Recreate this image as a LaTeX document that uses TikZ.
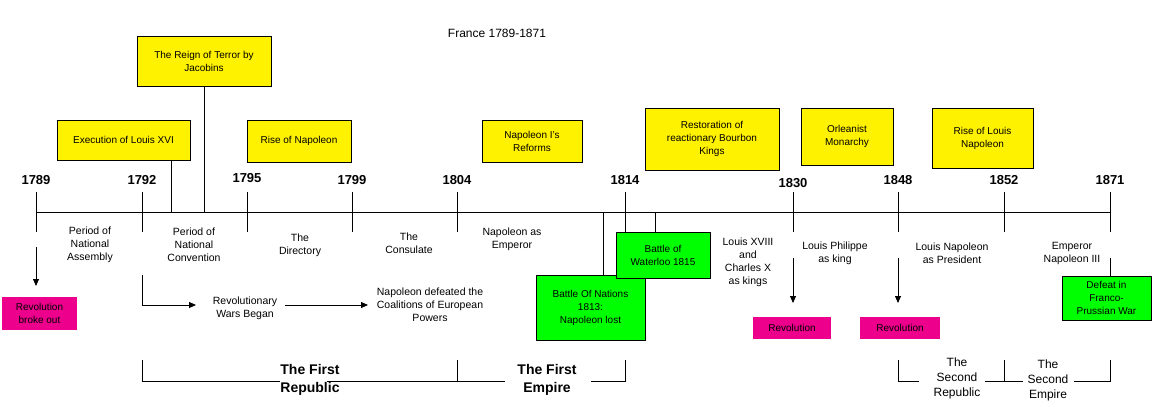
\documentclass[tikz,border=0pt]{standalone}
\usepackage{fontspec}
\setmainfont{Liberation Sans}
\usetikzlibrary{arrows.meta}
\begin{document}
\begin{tikzpicture}[x=1pt,y=-1pt,
  txt/.style={align=center,font=\fontsize{10.5}{13}\selectfont,inner sep=0pt},
  box/.style={draw,thick,align=center,font=\fontsize{10}{13}\selectfont,inner sep=0pt},
  ybox/.style={box,fill=yellow},
  gbox/.style={box,fill=green},
  mbox/.style={fill=magenta,align=center,font=\fontsize{10}{13}\selectfont,inner sep=0pt},
  yr/.style={font=\bfseries\fontsize{13}{15}\selectfont,inner sep=0pt},
  big/.style={font=\bfseries\fontsize{14}{18}\selectfont,align=center,inner sep=0pt},
  mid/.style={font=\fontsize{12}{15}\selectfont,align=center,inner sep=0pt},
  ln/.style={thick},
  arr/.style={thick,-{Triangle[length=7pt,width=6pt]}}]
\useasboundingbox (0,0) rectangle (1152,407);
\node[font=\fontsize{12}{14}\selectfont] (title) at (497,33) {France 1789-1871};
% axis
\coordinate (a0) at (36,212); \coordinate (a1) at (1111,212);
\draw[ln] (a0) -- (a1);
\foreach \x/\y/\n in {36/1789/t1,142/1792/t2,247/1795/t3,352/1799/t4,457/1804/t5,625/1814/t6,793/1830/t7,898/1848/t8,1004/1852/t9,1110/1871/t10}{
  \coordinate (\n a) at (\x,192); \coordinate (\n b) at (\x,232);
  \draw[ln] (\n a) -- (\n b);
}
\node[yr] (y1) at (36,180) {1789};
\node[yr] (y2) at (142,180) {1792};
\node[yr] (y3) at (247,178) {1795};
\node[yr] (y4) at (352,180) {1799};
\node[yr] (y5) at (457,180) {1804};
\node[yr] (y6) at (625,180) {1814};
\node[yr] (y7) at (793,183) {1830};
\node[yr] (y8) at (898,180) {1848};
\node[yr] (y9) at (1004,180) {1852};
\node[yr] (y10) at (1110,180) {1871};
% yellow boxes
\node[ybox,minimum width=134,minimum height=50] (terror) at (204,61) {The Reign of Terror by\\Jacobins};
\node[ybox,minimum width=133,minimum height=40] (exec) at (123.5,140) {Execution of Louis XVI};
\node[ybox,minimum width=104,minimum height=42] (rise) at (299,141) {Rise of Napoleon};
\node[ybox,minimum width=100,minimum height=42] (reforms) at (532,141) {Napoleon I's\\Reforms};
\node[ybox,minimum width=134,minimum height=62] (resto) at (712,139) {Restoration of\\reactionary Bourbon\\Kings};
\node[ybox,minimum width=92,minimum height=57] (orl) at (847,136.5) {Orleanist\\Monarchy};
\node[ybox,minimum width=101,minimum height=60] (riseln) at (982.5,138) {Rise of Louis\\Napoleon};
\coordinate (c1) at (171,212); \coordinate (c2) at (204,212);
\draw[ln] (exec.south -| c1) -- (c1);
\draw[ln] (terror.south) -- (c2);
% green boxes
\node[gbox,minimum width=109,minimum height=65] (nations) at (590.5,307.5) {Battle Of Nations\\1813:\\Napoleon lost};
\node[gbox,minimum width=94,minimum height=46] (water) at (663,255) {Battle of\\Waterloo 1815};
\node[gbox,minimum width=89,minimum height=44] (defeat) at (1106.5,298) {Defeat in\\Franco-\\Prussian War};
\coordinate (c3) at (603,212); \coordinate (c4) at (655,212);
\draw[ln] (c3) -- (c3 |- nations.north);
\draw[ln] (c4) -- (c4 |- water.north);
\coordinate (c5) at (1110,258);
\draw[ln] (c5) -- (c5 |- defeat.north);
% magenta
\node[mbox,minimum width=75,minimum height=33] (rev0) at (39.5,313.5) {Revolution\\broke out};
\node[mbox,minimum width=78,minimum height=22] (rev1) at (792,328) {Revolution};
\node[mbox,minimum width=80,minimum height=22] (rev2) at (900,328) {Revolution};
\coordinate (d0) at (36,247); \coordinate (d1) at (793,258); \coordinate (d2) at (898,258);
\draw[arr] (d0) -- (36,286);
\draw[arr] (d1) -- (793,303);
\draw[arr] (d2) -- (898,303);
% period texts
\node[txt] (p1) at (90,245) {Period of\\National\\Assembly};
\node[txt] (p2) at (194,245) {Period of\\National\\Convention};
\node[txt] (p3) at (300,245) {The\\Directory};
\node[txt] (p4) at (409,243) {The\\Consulate};
\node[txt] (p5) at (512,239) {Napoleon as\\Emperor};
\node[txt] (p6) at (748,262) {Louis XVIII\\and\\Charles X\\as kings};
\node[txt] (p7) at (835,253) {Louis Philippe\\as king};
\node[txt] (p8) at (952,253) {Louis Napoleon\\as President};
\node[txt] (p9) at (1072,253) {Emperor\\Napoleon III};
% wars
\node[txt] (wars) at (245,308) {Revolutionary\\Wars Began};
\node[txt] (coal) at (430,305) {Napoleon defeated the\\Coalitions of European\\Powers};
\coordinate (w0) at (142,275);
\draw[arr] (w0) |- (196,305);
\draw[arr] (wars.east |- 0,305) ++(8,0) -- (368,305);
% brackets
\node[big] (r1) at (310,380) {The First\\Republic};
\node[big] (e1) at (547,380) {The First\\Empire};
\node[mid] (r2) at (957,378) {The\\Second\\Republic};
\node[mid] (e2) at (1048,380) {The\\Second\\Empire};
\draw[ln] (142,360) -- (142,381) -- (r1.west |- 0,381) ++(-3,0);
\draw[ln] (142,381) -- (229,381);
\draw[ln] (327,381) -- (457,381) -- (457,360);
\draw[ln] (457,381) -- (505,381);
\draw[ln] (591,381) -- (625,381) -- (625,360);
\draw[ln] (898,360) -- (898,381) -- (919,381);
\draw[ln] (985,381) -- (1004,381) -- (1004,360);
\draw[ln] (1004,381) -- (1023,381);
\draw[ln] (1074,381) -- (1110,381) -- (1110,360);
\end{tikzpicture}
\end{document}
